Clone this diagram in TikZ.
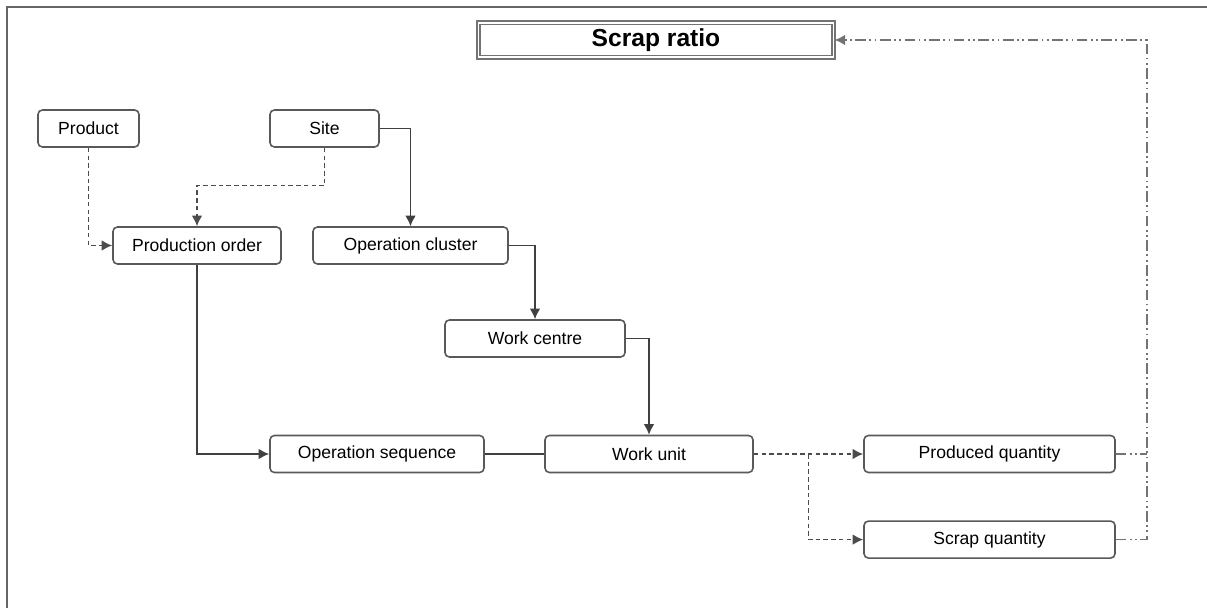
\documentclass[tikz,border=0pt]{standalone}
\usepackage{fontspec}
\setmainfont{Liberation Sans}
\usepackage{tikz}
\usetikzlibrary{positioning}
\usetikzlibrary{arrows.meta}
\usetikzlibrary{calc}

\begin{document}
\begin{tikzpicture}[ font = \fontsize{10}{12}\selectfont
                     , >={Latex[width=6pt, length=6pt]}
                     , line width = 0.8pt
                     , box/.style = { rectangle
                                    , rounded corners = 2.5pt
                                    , draw = black!65
                                    , line width = 0.9pt
                                    , align = center
                                    , minimum height = 0.74cm }
                     , ratiobox/.style = { rectangle
                                         , draw = black!55
                                         , double = white
                                         , double distance = 1pt
                                         , line width = 1.1pt
                                         , minimum width = 7.1cm
                                         , minimum height = 0.56cm
                                         , font = \fontsize{14}{16}\selectfont\bfseries }
                     , link/.style = { draw = black!75 }
                     , dotlink/.style = { draw = black!70, dash pattern = on 2.6pt off 1.8pt }
                     , feedlink/.style = { draw = black!55, line width = 1pt
                                         , dash pattern = on 6pt off 2pt on 1pt off 2pt on 1pt off 2pt }
                     ]

  \useasboundingbox (0,0) rectangle (24.14,-12.16);
  \draw[black!60, line width = 1.2pt] (0.14,-12.16) -- (0.14,-0.14) -- (24.14,-0.14);

  %%
  %% Nodes
  %%
  \node (ratio) [ratiobox] at (13.12,-0.80) {Scrap ratio};
  \node (product) [box, minimum width = 2.02cm] at (1.77,-2.57) {Product};
  \node (site) [box, minimum width = 2.18cm] at (6.49,-2.57) {Site};
  \node (porder) [box, minimum width = 3.36cm] at (3.94,-4.91) {Production order};
  \node (opcluster) [box, minimum width = 3.90cm] at (8.21,-4.91) {Operation cluster};
  \node (wcentre) [box, minimum width = 3.60cm] at (10.70,-6.77) {Work centre};
  \node (opseq) [box, minimum width = 4.28cm] at (7.54,-9.08) {Operation sequence};
  \node (wunit) [box, minimum width = 4.16cm] at (12.98,-9.08) {Work unit};
  \node (prodq) [box, minimum width = 5.02cm] at (19.79,-9.08) {Produced quantity};
  \node (scrapq) [box, minimum width = 5.02cm, below = 0.94cm of prodq] {Scrap quantity};

  \coordinate (split) at ($(wunit.east)!0.5!(prodq.west)$);
  \coordinate (fb) at (22.94,-0.80);

  %%
  %% Relationship between nodes (arrows)
  %%
  % Dotted lines into the production order.
  \draw[dotlink, ->] (product.south) |- (porder.west);
  \draw[dotlink, ->] (site.south) -- ++(0,-0.76) -| (porder.north);
  % Solid lines down the routing.
  \draw[link, ->] (site.east) -| (opcluster.north);
  \draw[link, ->] (opcluster.east) -| (wcentre.north);
  \draw[link, ->] (wcentre.east) -| (wunit.north);
  \draw[link, ->] (porder.south) |- (opseq.west);
  \draw[link] (opseq.east) -- (wunit.west);
  % Quantities.
  \draw[dotlink, ->] (wunit.east) -- (prodq.west);
  \draw[dotlink, ->] (split) |- (scrapq.west);
  % Back up to the ratio.
  \draw[feedlink] (prodq.east) -- (prodq.east -| fb);
  \draw[feedlink, ->] (scrapq.east) -| (fb) -- (ratio.east);
\end{tikzpicture}
\end{document}
